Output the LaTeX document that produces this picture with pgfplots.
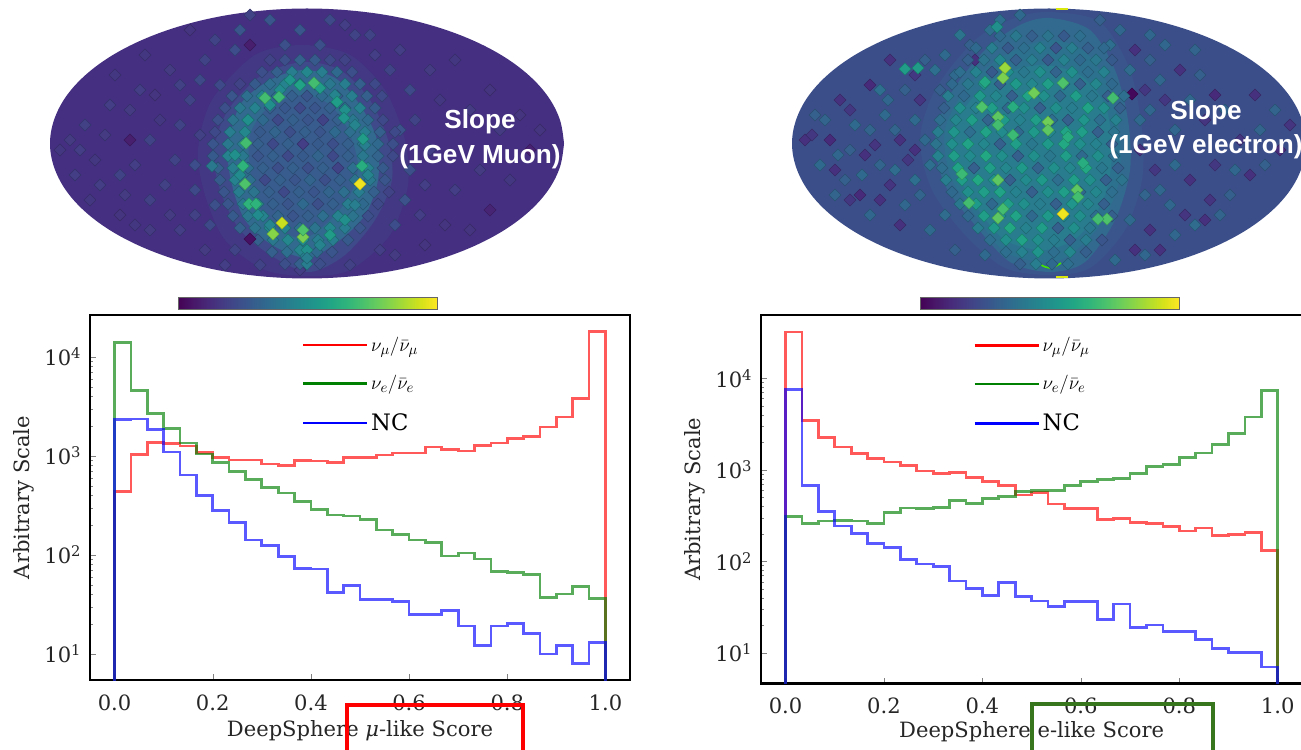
\documentclass[border=0pt]{standalone}
\usepackage{fontspec}
\setmainfont{DejaVu Serif}
\newfontfamily\helv{Liberation Sans}
\usepackage{pgfplots}
\usepackage{pgfplotstable}
\pgfplotsset{compat=1.18}

\pgfplotstableread{
x red green blue
0.00000 1 1 1
0.00000 437 14060 2345
0.03333 1040 4571 2365
0.06667 1364 2698 1857
0.10000 1343 1888 1098
0.13333 1262 1353 643
0.16667 1081 1048 397
0.20000 969 857 281
0.23333 911 695 214
0.26667 911 577 142
0.30000 830 479 124
0.33333 798 423 96
0.36667 897 348 73
0.40000 890 289 72
0.43333 857 253 42
0.46667 969 248 49
0.50000 962 229 35.6
0.53333 1023 179 35.6
0.56667 1072 162 34
0.60000 1072 142 25.2
0.63333 1233 134 25.2
0.66667 1159 97.7 27.4
0.70000 1124 105 19.2
0.73333 1272 91 12.1
0.76667 1352 68 19.2
0.80000 1496 67 20.2
0.83333 1580 63 16
0.86667 1963 37.3 10
0.90000 2476 40.4 12.2
0.93333 3820 48.3 8.05
0.96667 18030 36.2 13.1
1.00000 1 1 1
}\histL

\pgfplotstableread{
x red green blue
0.00000 1 1 1
0.00000 32000 307 7520
0.03333 3483 258 675
0.06667 2254 275 348
0.10000 1782 280 243
0.13333 1507 275 202
0.16667 1320 260 157
0.20000 1213 343 141
0.23333 1107 382 105
0.26667 967 378 93.6
0.30000 904 385 87.5
0.33333 935 459 61
0.36667 818 426 50.3
0.40000 740 483 42.2
0.43333 675 512 58.5
0.46667 529 575 41.5
0.50000 566 590 36.9
0.53333 422 595 32.3
0.56667 378 675 36.3
0.60000 378 747 36.3
0.63333 287 778 23.3
0.66667 292 804 34.3
0.70000 264 912 19.1
0.73333 258 1087 20.2
0.76667 239 1143 17.1
0.80000 214 1352 17.1
0.83333 231 1520 14
0.86667 192 1905 11.1
0.90000 197 2472 10.1
0.93333 206 3784 10.1
0.96667 131 7396 7
1.00000 1 1 1
}\histR

\pgfplotsset{
  histbase/.style={
    scale only axis, xmin=-0.05, xmax=1.05,
    axis line style={line width=1.7pt},
    tick align=inside, xtick pos=bottom, ytick pos=left,
    xtick={0,0.2,0.4,0.6,0.8,1.0},
    xticklabels={0.0,0.2,0.4,0.6,0.8,1.0},
    ytick={10,100,1000,10000},
    yticklabels={10\textsuperscript{1},10\textsuperscript{2},10\textsuperscript{3},10\textsuperscript{4}},
    major tick length=4.5pt, minor tick length=2.5pt,
    tick label style={font=\fontsize{15.8}{17}\selectfont, text=black!85},
    label style={font=\fontsize{15.8}{17}\selectfont, text=black!85},
    xticklabel style={yshift=-7.5pt},
    yticklabel style={xshift=-3pt},
    legend cell align=left,
    legend style={draw=none, fill=none, anchor=north west, row sep=12.5pt,
      font=\fontsize{15.8}{17}\selectfont},
    legend image code/.code={\path (0pt,0pt) -- (48pt,0pt);\draw[##1] (0pt,0pt) -- (37.5pt,0pt);},
  },
  histline/.style={line width=2pt, const plot mark left, no marks, opacity=0.65, forget plot},
  skymap/.style={
    scale only axis, hide axis, y dir=reverse, clip=false,
    colormap/viridis, point meta min=0, point meta max=1,
    colorbar horizontal,
    colorbar style={
      anchor=north west, at={(0.249,-0.0704)},
      width=194.25pt, height=9pt,
      xtick=\empty, ytick=\empty,
      axis line style={line width=0.5pt, draw=black!60},
      hide axis=false, y dir=normal,
    },
  },
  dia/.style={scatter, only marks, scatter src=explicit, mark=square*,
    mark size=3.2pt, mark options={rotate=45}},
}
\definecolor{v12}{HTML}{442F81}
\definecolor{v18}{HTML}{433883}
\definecolor{v24}{HTML}{3E4A89}
\definecolor{v25}{HTML}{3C4E8A}
\definecolor{v27}{HTML}{38588C}
\definecolor{v28}{HTML}{375C8D}
\definecolor{v30}{HTML}{3A558C}
\definecolor{v33}{HTML}{316A8E}
\definecolor{v38}{HTML}{2C728E}
\definecolor{v42}{HTML}{287C8E}
\definecolor{boxg}{HTML}{38761D}

\begin{document}
\begin{tikzpicture}[x=1pt,y=1pt]
\clip (0,0) rectangle (975.75pt,561.75pt);
\fill[white] (0,0) rectangle (975.75pt,561.75pt);

% ---------- left sky map
\begin{axis}[skymap, at={(37.5pt,353.25pt)}, anchor=south west,
  width=385.5pt, height=202.5pt, xmin=50, xmax=564, ymin=8, ymax=278]
\addplot[fill=v12, draw=none, smooth, tension=0.6, forget plot] coordinates {
(564,143.5)(560,166.9)(548.5,189.7)(529.6,211)(503.9,230.3)(472.2,246.9)(435.5,260.4)(394.9,270.4)(351.6,276.4)(307,278.5)
(262.4,276.4)(219.1,270.4)(178.5,260.4)(141.8,246.9)(110.1,230.3)(84.4,211)(65.5,189.7)(54,166.9)(50,143.5)
(54,120.1)(65.5,97.3)(84.4,76)(110.1,56.7)(141.8,40.1)(178.5,26.6)(219.1,16.6)(262.4,10.6)(307,8.5)
(351.6,10.6)(394.9,16.6)(435.5,26.6)(472.2,40.1)(503.9,56.7)(529.6,76)(548.5,97.3)(560,120.1)(564,143.5)};
\addplot[fill=v18, draw=none, smooth cycle, forget plot] coordinates {
(303,45)(350,55)(385,90)(405,140)(408,185)(390,235)(350,270)(310,276)(265,270)(225,240)(205,195)(198,150)(212,100)(255,55)};
\addplot[fill=v24, draw=none, smooth cycle, forget plot] coordinates {
(303,62)(340,70)(370,100)(388,140)(392,180)(375,220)(345,255)(310,272)(275,258)(240,230)(220,190)(214,150)(228,110)(262,75)};
\addplot[fill=v33, draw=none, smooth cycle, forget plot] coordinates {
(303,70)(335,78)(360,105)(377,140)(378,180)(365,215)(340,240)(308,258)(272,245)(245,220)(232,185)(228,150)(240,105)(270,80)};
\addplot[fill=v28, draw=none, smooth cycle, forget plot] coordinates {
(303,95)(330,105)(348,130)(358,165)(350,195)(330,220)(305,238)(280,230)(258,205)(250,170)(250,135)(268,108)};
\addplot[dia] table[meta=c] {
x y c
70 140 .17
85 125 .19
95 160 .16
110 105 .18
120 175 .2
130 140 .08
140 90 .18
150 200 .19
160 120 .16
170 70 .17
175 160 .2
190 100 .2
195 190 .22
205 60 .2
200 135 .19
210 225 .22
215 40 .2
180 230 .18
150 230 .17
120 215 .15
240 30 .26
235 50 .23
270 20 .26
300 30 .26
330 20 .22
355 35 .2
375 55 .18
400 50 .18
430 70 .17
410 90 .22
440 100 .16
400 130 .25
410 170 .24
405 200 .25
395 225 .23
420 215 .18
455 190 .18
490 210 .1
470 230 .15
510 180 .16
530 150 .09
540 130 .15
380 250 .18
350 265 .19
260 265 .2
300 270 .18
235 250 .2
250 45 .08
60 150 .16
75 175 .18
90 200 .16
115 75 .16
145 55 .16
190 30 .15
80 150 .18
105 135 .17
135 165 .18
150 140 .2
165 185 .19
125 195 .17
100 185 .18
180 125 .2
180 85 .19
155 95 .15
130 110 .17
200 80 .22
220 85 .22
195 165 .23
215 205 .24
195 215 .19
170 215 .17
135 225 .16
225 265 .18
205 250 .17
250 15 .2
285 45 .24
320 45 .24
345 25 .18
370 35 .2
390 70 .2
415 120 .2
430 150 .18
425 185 .18
445 225 .15
480 170 .17
500 130 .17
470 110 .17
490 90 .15
455 60 .16
520 115 .15
395 255 .17
425 245 .15
270 60 .2
285 60 .24
300 60 .3
315 60 .28
330 60 .22
345 60 .2
262 72 .24
277 72 .3
292 72 .42
307 72 .46
322 72 .42
337 72 .34
352 72 .24
240 84 .2
255 84 .28
270 84 .36
285 84 .44
300 84 .38
315 84 .3
330 84 .4
345 84 .42
360 84 .3
375 84 .22
232 96 .26
247 96 .36
262 96 .44
277 96 .34
292 96 .3
307 96 .26
322 96 .34
337 96 .3
352 96 .42
367 96 .3
382 96 .22
225 108 .24
240 108 .4
255 108 .44
270 108 .3
285 108 .27
300 108 .22
315 108 .26
330 108 .3
345 108 .34
360 108 .44
375 108 .28
218 120 .24
233 120 .38
248 120 .44
263 120 .34
278 120 .22
293 120 .3
308 120 .26
323 120 .2
338 120 .3
353 120 .4
368 120 .34
383 120 .22
215 132 .22
230 132 .42
245 132 .46
260 132 .28
275 132 .32
290 132 .24
305 132 .3
320 132 .26
335 132 .34
350 132 .36
365 132 .42
380 132 .3
395 132 .22
213 144 .26
228 144 .4
243 144 .42
258 144 .3
273 144 .22
288 144 .3
303 144 .18
318 144 .28
333 144 .24
348 144 .3
363 144 .38
378 144 .34
393 144 .24
213 156 .28
228 156 .44
243 156 .4
258 156 .26
273 156 .3
288 156 .22
303 156 .28
318 156 .32
333 156 .22
348 156 .3
363 156 .4
378 156 .32
393 156 .22
218 168 .3
233 168 .42
248 168 .36
263 168 .3
278 168 .24
293 168 .3
308 168 .24
323 168 .3
338 168 .2
353 168 .36
368 168 .44
383 168 .28
220 180 .28
235 180 .44
250 180 .36
265 180 .22
280 180 .3
295 180 .26
310 180 .32
325 180 .24
340 180 .3
355 180 .38
370 180 .4
385 180 .26
224 192 .26
239 192 .42
254 192 .38
269 192 .3
284 192 .22
299 192 .3
314 192 .26
329 192 .32
344 192 .36
359 192 .42
374 192 .3
389 192 .2
228 204 .26
243 204 .4
258 204 .42
273 204 .3
288 204 .26
303 204 .34
318 204 .24
333 204 .3
348 204 .42
363 204 .34
378 204 .22
233 216 .28
248 216 .4
263 216 .44
278 216 .32
293 216 .26
308 216 .3
323 216 .36
338 216 .44
353 216 .38
368 216 .24
240 228 .3
255 228 .38
270 228 .46
285 228 .44
300 228 .36
315 228 .38
330 228 .46
345 228 .42
360 228 .26
258 240 .3
273 240 .4
288 240 .46
303 240 .48
318 240 .42
333 240 .42
348 240 .28
272 252 .3
287 252 .36
302 252 .42
317 252 .34
332 252 .26
285 264 .24
300 264 .3
307 264 .42
320 264 .24
290 80 .52
280 90 .48
320 88 .55
335 95 .45
345 110 .5
355 125 .45
365 145 .42
368 175 .45
355 205 .42
345 220 .5
330 235 .55
320 245 .45
300 250 .45
270 225 .45
258 215 .48
240 175 .48
235 155 .5
248 120 .5
270 105 .5
250 239 .04
307 250 .5
307 258 .42
212 166 .4
300 85 .58
265 98 .7
279 97 .68
246 143 .7
243 166 .65
245 184 .72
249 204 .65
256 204 .65
314 83 .7
337 102 .56
344 118 .52
363 139 .55
362 166 .62
303 237 .8
303 230 .72
273 234 .82
282 223 .92
360 184 .98
};
\end{axis}

% ---------- right sky map
\begin{axis}[skymap, at={(594pt,353.25pt)}, anchor=south west,
  width=385.5pt, height=202.5pt, xmin=792, xmax=1306, ymin=8, ymax=278]
\addplot[fill=v25, draw=none, smooth, tension=0.6, forget plot] coordinates {
(1306,143.5)(1302,166.9)(1290.5,189.7)(1271.6,211)(1245.9,230.3)(1214.2,246.9)(1177.5,260.4)(1136.9,270.4)(1093.6,276.4)(1049,278.5)
(1004.4,276.4)(961.1,270.4)(920.5,260.4)(883.8,246.9)(852.1,230.3)(826.4,211)(807.5,189.7)(796,166.9)(792,143.5)
(796,120.1)(807.5,97.3)(826.4,76)(852.1,56.7)(883.8,40.1)(920.5,26.6)(961.1,16.6)(1004.4,10.6)(1049,8.5)
(1093.6,10.6)(1136.9,16.6)(1177.5,26.6)(1214.2,40.1)(1245.9,56.7)(1271.6,76)(1290.5,97.3)(1302,120.1)(1306,143.5)};
\addplot[fill=v30, draw=none, smooth cycle, forget plot] coordinates {
(1050,12)(1100,22)(1130,70)(1142,130)(1142,180)(1125,230)(1090,268)(1050,275)(1005,268)(965,235)(932,190)(920,140)(935,90)(975,40)(1015,18)};
\addplot[fill=v33, draw=none, smooth cycle, forget plot] coordinates {
(1050,18)(1090,30)(1115,70)(1128,120)(1130,170)(1115,220)(1085,262)(1050,272)(1010,262)(975,225)(945,185)(935,140)(950,95)(985,50)(1020,25)};
\addplot[fill=v38, draw=none, smooth cycle, forget plot] coordinates {
(1048,40)(1085,52)(1110,90)(1120,140)(1118,185)(1100,225)(1070,255)(1045,262)(1005,252)(975,215)(950,175)(945,130)(965,90)(1000,58)};
\addplot[fill=v42, draw=none, smooth cycle, forget plot] coordinates {
(1045,65)(1080,75)(1105,105)(1112,150)(1105,195)(1080,235)(1045,250)(1005,240)(975,205)(955,165)(958,120)(985,85)(1015,70)};
\addplot[dia] table[meta=c] {
x y c
805 140 .14
815 115 .3
820 165 .34
830 140 .12
840 100 .14
845 180 .3
855 125 .34
865 155 .14
870 85 .12
880 200 .14
885 115 .34
895 170 .35
900 140 .14
905 90 .3
915 120 .34
920 195 .32
925 60 .3
880 165 .32
860 195 .12
900 225 .14
930 230 .34
940 90 .3
945 55 .34
960 35 .38
975 60 .14
990 30 .36
1020 15 .34
955 250 .3
985 255 .34
930 165 .36
915 150 .14
850 150 .3
835 170 .14
870 130 .32
890 60 .14
880 90 .36
812 135 .16
825 120 .32
838 155 .33
850 110 .16
862 175 .34
875 145 .15
888 100 .33
895 130 .32
908 160 .16
920 100 .15
925 140 .34
915 180 .36
905 205 .33
890 185 .15
870 215 .33
850 200 .16
835 195 .32
945 215 .35
935 70 .36
915 75 .16
955 75 .34
970 45 .3
1000 20 .36
1135 50 .14
1150 60 .3
1165 45 .33
1180 70 .14
1200 75 .3
1215 95 .12
1140 150 .14
1145 195 .32
1150 230 .14
1170 205 .33
1190 180 .14
1195 225 .35
1210 200 .15
1230 195 .3
1250 175 .14
1265 165 .3
1280 150 .12
1290 125 .15
1275 110 .32
1255 95 .14
1120 30 .33
1100 20 .3
1135 250 .14
1115 260 .34
1160 250 .14
1175 130 .33
1145 90 .16
1160 80 .33
1150 110 .33
1165 100 .16
1190 100 .33
1205 120 .15
1225 110 .32
1240 140 .15
1260 130 .32
1140 120 .34
1155 170 .16
1175 165 .34
1160 190 .33
1215 165 .16
1235 170 .33
1130 220 .34
1175 235 .33
1185 215 .15
1145 255 .33
1205 220 .14
1220 215 .32
1130 70 .35
1110 45 .36
1150 35 .33
1195 50 .32
1132 94 .02
1000 36 .34
1016 36 .4
1032 36 .3
1048 36 .38
1064 36 .28
1080 36 .36
976 48 .34
992 48 .42
1008 48 .28
1024 48 .36
1040 48 .44
1056 48 .26
1072 48 .42
1088 48 .3
1104 48 .34
968 60 .3
984 60 .38
1000 60 .46
1016 60 .3
1032 60 .42
1048 60 .28
1064 60 .44
1080 60 .34
1096 60 .4
1112 60 .28
960 72 .36
976 72 .44
992 72 .28
1008 72 .5
1024 72 .4
1040 72 .5
1056 72 .32
1072 72 .5
1088 72 .36
1104 72 .44
952 84 .34
968 84 .4
984 84 .5
1000 84 .3
1016 84 .54
1032 84 .46
1048 84 .56
1064 84 .4
1080 84 .3
1096 84 .46
1112 84 .34
948 96 .42
964 96 .34
980 96 .54
996 96 .46
1012 96 .3
1028 96 .58
1044 96 .5
1060 96 .34
1076 96 .56
1092 96 .4
1108 96 .3
1124 96 .36
944 108 .3
960 108 .5
976 108 .44
992 108 .56
1008 108 .34
1024 108 .5
1040 108 .3
1056 108 .5
1072 108 .42
1088 108 .58
1104 108 .5
1120 108 .3
940 120 .36
956 120 .46
972 120 .56
988 120 .32
1004 120 .54
1020 120 .44
1036 120 .56
1052 120 .36
1068 120 .3
1084 120 .52
1100 120 .36
1116 120 .44
938 132 .42
954 132 .52
970 132 .36
986 132 .58
1002 132 .48
1018 132 .34
1034 132 .54
1050 132 .46
1066 132 .58
1082 132 .56
1098 132 .3
1114 132 .38
936 144 .38
952 144 .5
968 144 .58
984 144 .46
1000 144 .3
1016 144 .56
1032 144 .4
1048 144 .54
1064 144 .6
1080 144 .5
1096 144 .44
1112 144 .3
938 156 .44
954 156 .56
970 156 .48
986 156 .6
1002 156 .5
1018 156 .3
1034 156 .5
1050 156 .4
1066 156 .56
1082 156 .34
1098 156 .5
1114 156 .36
942 168 .36
958 168 .58
974 168 .3
990 168 .56
1006 168 .46
1022 168 .54
1038 168 .32
1054 168 .5
1070 168 .46
1086 168 .6
1102 168 .4
1118 168 .3
946 180 .42
962 180 .56
978 180 .6
994 180 .5
1010 180 .3
1026 180 .48
1042 180 .54
1058 180 .36
1074 180 .56
1090 180 .5
1106 180 .3
1122 180 .38
952 192 .34
968 192 .5
984 192 .56
1000 192 .58
1016 192 .44
1032 192 .3
1048 192 .5
1064 192 .56
1080 192 .34
1096 192 .46
1112 192 .36
960 204 .4
976 204 .54
992 204 .34
1008 204 .56
1024 204 .5
1040 204 .42
1056 204 .3
1072 204 .52
1088 204 .46
1104 204 .3
968 216 .34
984 216 .56
1000 216 .5
1016 216 .58
1032 216 .34
1048 216 .54
1064 216 .46
1080 216 .5
1096 216 .36
1112 216 .3
978 228 .42
994 228 .54
1010 228 .6
1026 228 .44
1042 228 .56
1058 228 .3
1074 228 .5
1090 228 .4
990 240 .36
1006 240 .5
1022 240 .58
1038 240 .5
1054 240 .42
1070 240 .3
1086 240 .42
1102 240 .26
1006 252 .36
1022 252 .44
1038 252 .52
1054 252 .36
1070 252 .46
1086 252 .3
1020 264 .3
1036 264 .42
1052 264 .34
1068 264 .36
982 107 .72
998 117 .75
998 125 .7
1013 107 .62
1013 135 .68
1048 122 .78
1048 130 .75
1068 137 .62
1034 93 .78
1063 83 .72
985 82 .6
1005 68 .85
1003 78 .8
1113 98 .7
905 69 .55
918 68 .55
997 27 .5
962 174 .68
998 180 .75
1077 190 .75
1078 197 .7
1083 163 .62
969 203 .7
1003 209 .7
998 218 .75
1107 219 .72
1098 219 .7
1063 214 .98
};
\addplot[line width=1.2pt, color=green!70!yellow!90!black, smooth, forget plot] coordinates {(1038,262)(1043,266)(1050,268)(1056,266)(1061,263)};
\addplot[line width=1pt, color=yellow!85!green, forget plot] coordinates {(1056,9)(1068,9)};
\addplot[line width=1pt, color=yellow!85!green, forget plot] coordinates {(1056,277)(1068,277)};
\end{axis}

% ---------- left histogram
\begin{semilogyaxis}[histbase, at={(67.5pt,51.75pt)}, anchor=south west,
  width=405pt, height=273.75pt, ymin=5.46, ymax=26500,
  xlabel={DeepSphere {\itshape μ}-like Score}, ylabel={Arbitrary Scale},
  xlabel style={at={(axis description cs:0.5,-0.14)}, anchor=center},
  ylabel style={at={(axis description cs:-0.122,0.5)}, anchor=center},
  legend style={at={(axis description cs:0.385,0.955)}}]
\addplot[histline, red] table[x=x, y=red] {\histL};
\addplot[histline, green!50!black] table[x=x, y=green] {\histL};
\addplot[histline, blue] table[x=x, y=blue] {\histL};
\addlegendimage{red, line width=1.8pt}
\addlegendentry{$\nu_\mu/\bar\nu_\mu$}
\addlegendimage{green!50!black, line width=1.8pt}
\addlegendentry{$\nu_e/\bar\nu_e$}
\addlegendimage{blue, line width=1.8pt}
\addlegendentry{\fontsize{17}{19}\selectfont NC}
\end{semilogyaxis}

% ---------- right histogram
\begin{semilogyaxis}[histbase, at={(570.7pt,49.1pt)}, anchor=south west,
  width=406pt, height=276.4pt, ymin=4.63, ymax=49100,
  xlabel={DeepSphere e-like Score}, ylabel={Arbitrary Scale},
  xlabel style={at={(axis description cs:0.5,-0.13)}, anchor=center},
  ylabel style={at={(axis description cs:-0.122,0.5)}, anchor=center},
  legend style={at={(axis description cs:0.385,0.955)}}]
\addplot[histline, red] table[x=x, y=red] {\histR};
\addplot[histline, green!50!black] table[x=x, y=green] {\histR};
\addplot[histline, blue] table[x=x, y=blue] {\histR};
\addlegendimage{red, line width=1.8pt}
\addlegendentry{$\nu_\mu/\bar\nu_\mu$}
\addlegendimage{green!50!black, line width=1.8pt}
\addlegendentry{$\nu_e/\bar\nu_e$}
\addlegendimage{blue, line width=1.8pt}
\addlegendentry{\fontsize{17}{19}\selectfont NC}
\end{semilogyaxis}

% ---------- annotations in image pixels
\begin{scope}[x=0.75pt, y=-0.75pt, shift={(0,561.75pt)}]
\node[text=white, font=\helv\bfseries\fontsize{19.6}{22}\selectfont] at (480,122) {Slope};
\node[text=white, font=\helv\bfseries\fontsize{19.6}{22}\selectfont] at (480,157) {(1GeV Muon)};
\node[text=white, font=\helv\bfseries\fontsize{19.6}{22}\selectfont] at (1206,113) {Slope};
\node[text=white, font=\helv\bfseries\fontsize{19.6}{22}\selectfont] at (1206,147) {(1GeV electron)};
\draw[red, line width=3.6pt] (347,760) -- (347,705) -- (523,705) -- (523,760);
\draw[boxg, line width=3.6pt] (1032,760) -- (1032,704) -- (1213,704) -- (1213,760);
\end{scope}
\end{tikzpicture}
\end{document}
